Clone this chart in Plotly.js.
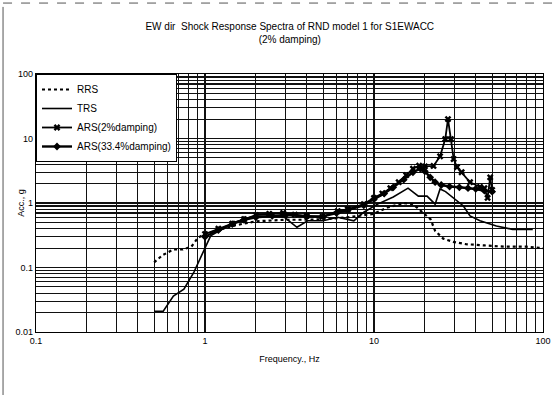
<!DOCTYPE html>
<html>
<head>
<meta charset="utf-8">
<script src="https://cdn.plot.ly/plotly-3.0.1.min.js"></script>
<style>html,body{margin:0;padding:0;background:#fff;}#chart{width:553px;height:395px;}</style>
</head>
<body>
<div id="chart"></div>
<script>
// RRS (required response spectrum)
var rrsFreq = [0.5,0.56,0.65,0.74,0.83,0.91,1.0,1.2,1.5,2,3,4,5,7,10,12,15,17,19.6,21.6,23,25.7,29.4,35,45,60,80,100];
var rrsAcc  = [0.12,0.155,0.19,0.19,0.21,0.29,0.33,0.38,0.45,0.52,0.55,0.55,0.56,0.6,0.68,0.85,1.0,0.96,0.7,0.56,0.37,0.28,0.25,0.23,0.22,0.21,0.21,0.2];
// TRS (test response spectrum)
var trsFreq = [0.5,0.566,0.65,0.75,0.86,0.97,1.08,1.48,1.95,2.93,3.5,4.05,5.0,6.1,7.6,8.7,10.5,13,15.9,18.3,20.6,23,24.6,26.5,30.2,33.8,37,42.4,53,66,87];
var trsAcc  = [0.021,0.021,0.036,0.046,0.085,0.17,0.31,0.5,0.63,0.61,0.42,0.53,0.53,0.6,0.53,0.72,0.96,1.24,1.7,1.28,1.28,0.96,1.65,1.5,1.15,0.9,0.63,0.53,0.44,0.39,0.39];
// ARS 2% damping
var ars2Freq = [1.0,1.2,1.45,1.7,2.0,2.4,2.9,3.4,4.0,4.95,6.1,7.0,8.7,10,11.2,12.5,14,15.5,17,18.5,20,22.5,24.6,26.4,27.4,28.5,29.6,31,33,37,42.4,45,47,48.7,50];
var ars2Acc  = [0.33,0.4,0.48,0.56,0.65,0.68,0.7,0.66,0.63,0.61,0.75,0.8,0.96,1.2,1.4,1.7,2.1,2.7,3.4,3.8,3.7,3.75,5.3,9.8,20,9.8,4.8,3.6,3.0,2.1,1.77,1.7,1.2,2.5,1.6];
// ARS 33.4% damping
var ars33Freq = [1.0,1.2,1.45,1.7,2.0,2.5,3,4,5,6,7,8.7,10,11.5,13,15,17,18.8,20,21.5,23,25,28,32,36,40,45,50];
var ars33Acc  = [0.3,0.38,0.47,0.55,0.6,0.63,0.65,0.62,0.62,0.7,0.78,0.92,1.15,1.4,1.75,2.3,3.0,3.4,3.1,2.5,2.1,1.9,1.8,1.75,1.7,1.65,1.55,1.5];

var xTickVals = [0.1,1,10,100];
var xTickText = ["0.1","1","10","100"];
var yTickVals = [0.01,0.1,1,10,100];
var yTickText = ["0.01","0.1","1","10","100"];

var traces = [
  {x: rrsFreq, y: rrsAcc, name: "RRS", mode: "lines", line: {color: "#000", width: 2.2, dash: "dot"}},
  {x: trsFreq, y: trsAcc, name: "TRS", mode: "lines", line: {color: "#000", width: 1.6}},
  {x: ars2Freq, y: ars2Acc, name: "ARS(2%damping)", mode: "lines+markers", line: {color: "#000", width: 1.8}, marker: {symbol: "x", size: 6, color: "#000"}},
  {x: ars33Freq, y: ars33Acc, name: "ARS(33.4%damping)", mode: "lines+markers", line: {color: "#000", width: 2.4}, marker: {symbol: "diamond", size: 6, color: "#000"}}
];

var gridC = "#111";
var layout = {
  width: 553, height: 395,
  margin: {l: 36, r: 10, t: 74, b: 63},
  paper_bgcolor: "#fff", plot_bgcolor: "#fff",
  font: {family: "Liberation Sans, Arial, sans-serif", size: 9, color: "#000"},
  title: {text: "EW dir  Shock Response Spectra of RND model 1 for S1EWACC<br>(2% damping)", font: {size: 10, color: "#000"}, x: 0.524, xanchor: "center", y: 0.925, yanchor: "middle", yref: "container"},
  showlegend: true,
  legend: {x: 0, y: 1, xanchor: "left", yanchor: "top", bgcolor: "#fff", bordercolor: "#000", borderwidth: 1, font: {size: 10}, tracegroupgap: 0, itemwidth: 30},
  xaxis: {type: "log", range: [-1, 2], tickvals: xTickVals, ticktext: xTickText, showline: true, mirror: true, linecolor: "#000", linewidth: 1.2,
          showgrid: true, gridcolor: gridC, gridwidth: 1.3, zeroline: false, ticks: "",
          minor: {dtick: "D1", showgrid: true, gridcolor: gridC, gridwidth: 1.1, ticks: ""},
          title: {text: "Frequency., Hz", font: {size: 9}, standoff: 10}, tickfont: {size: 9}},
  yaxis: {type: "log", range: [-2, 2], tickvals: yTickVals, ticktext: yTickText, showline: true, mirror: true, linecolor: "#000", linewidth: 1.2,
          showgrid: true, gridcolor: gridC, gridwidth: 1.3, zeroline: false, ticks: "",
          minor: {dtick: "D1", showgrid: true, gridcolor: gridC, gridwidth: 1.1, ticks: ""},
          tickfont: {size: 9}, automargin: false},
  annotations: [
    {text: "Acc., g", xref: "paper", yref: "paper", x: -0.03, y: 0.5, xanchor: "center", yanchor: "middle", textangle: -90, showarrow: false, font: {size: 9}}
  ],
  shapes: [
    {type: "line", xref: "paper", yref: "paper", x0: -0.065, x1: 1.02, y0: 1.275, y1: 1.275, line: {color: "#555", width: 1, dash: "dash"}},
    {type: "line", xref: "paper", yref: "paper", x0: -0.065, x1: -0.065, y0: 1.26, y1: -0.25, line: {color: "#555", width: 1}}
  ]
};

Plotly.newPlot("chart", traces, layout, {displayModeBar: false, staticPlot: true});
</script>
</body>
</html>
